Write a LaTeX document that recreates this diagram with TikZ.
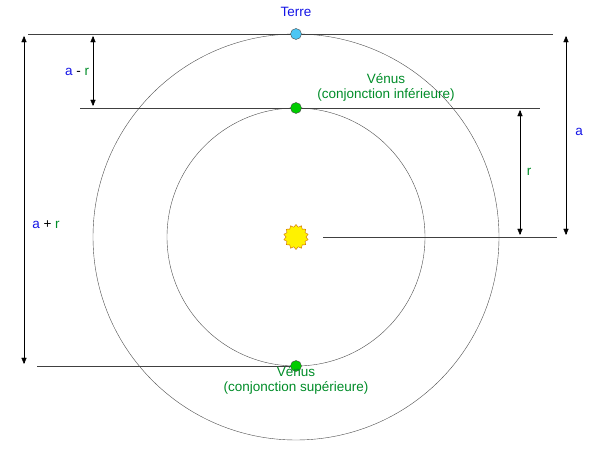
\documentclass[tikz,border=0pt]{standalone}
\usepackage{fontspec}
\setmainfont{Liberation Sans}
\usetikzlibrary{arrows, positioning, shapes.geometric}
\definecolor{txtblue}{RGB}{20,20,230}
\definecolor{txtgreen}{RGB}{0,140,40}
\tikzset{
  orbit/.style={draw=black!70, thin},
  guide/.style={draw=black!75, thin},
  measure/.style={draw, thin, <->, >=triangle 45},
  planet/.style={circle, draw=black!70, minimum size=11pt, inner sep=0pt},
  txt/.style={align=center, font=\fontsize{13.5}{15}\selectfont}
}
\begin{document}
\begin{tikzpicture}[x=1pt, y=-1pt]
      \useasboundingbox (0,0) rectangle (600,454);
      \node (sun) [star, star points=14, star point ratio=1.25, draw=orange!80!black,
        fill=yellow, minimum size=25pt, inner sep=0pt] at (296,237) {};
      \draw[orbit] (sun.center) circle (203);
      \draw[orbit] (sun.center) circle (129);
      % guide lines
      \coordinate (t1) at (28,34);   \coordinate (t2) at (553,34);
      \coordinate (i1) at (80,108);  \coordinate (i2) at (540,108);
      \coordinate (s1) at (323,237); \coordinate (s2) at (557,237);
      \coordinate (b1) at (37,366);  \coordinate (b2) at (296,366);
      \draw[guide] (t1) -- (t2);
      \draw[guide] (i1) -- (i2);
      \draw[guide] (s1) -- (s2);
      \draw[guide] (b1) -- (b2);
      \node (earth) [planet, fill=cyan!70] at (296,34) {};
      \node (vinf) [planet, fill=green!80!black] at (296,108) {};
      \node (vsup) [planet, fill=green!80!black] at (296,366) {};
      % distances
      \coordinate (amr1) at (93,36);  \coordinate (amr2) at (93,106);
      \coordinate (apr1) at (24,36);  \coordinate (apr2) at (24,364);
      \coordinate (r1) at (520,110);  \coordinate (r2) at (520,235);
      \coordinate (a1) at (566,36);   \coordinate (a2) at (566,235);
      \path
      (amr1) edge[measure] (amr2)
      (apr1) edge[measure] (apr2)
      (r1) edge[measure] (r2)
      (a1) edge[measure] (a2)
      ;
      % labels
      \node (terre) [txt, text=txtblue] at (296,12) {Terre};
      \node (linf) [txt, text=txtgreen] at (386,87) {Vénus\\(conjonction inférieure)};
      \node (lsup) [txt, text=txtgreen] at (296,380) {Vénus\\(conjonction supérieure)};
      \node (lamr) [txt] at (77,72) {\textcolor{txtblue}{a} - \textcolor{txtgreen}{r}};
      \node (lapr) [txt] at (46,225) {\textcolor{txtblue}{a} + \textcolor{txtgreen}{r}};
      \node (lr) [txt, text=txtgreen] at (529,172) {r};
      \node (la) [txt, text=txtblue] at (579,132) {a};
  \end{tikzpicture}
\end{document}
